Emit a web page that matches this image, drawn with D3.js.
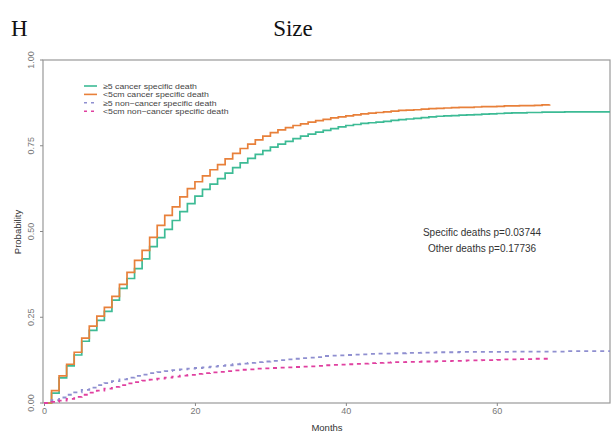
<!DOCTYPE html>
<html><head><meta charset="utf-8">
<script src="https://cdn.jsdelivr.net/npm/d3@7"></script>
<style>body{margin:0;background:#fff}svg{display:block}</style>
</head><body><svg id="c" width="614" height="433"></svg>
<script>
const seriesNames = ["≥5 cancer specific death","<5cm cancer specific death","≥5 non−cancer specific death","<5cm non−cancer specific death"];
const seriesColors = ["#3dbb95","#e8803a","#8f8fd0","#e040a0"];
const seriesDashed = [false,false,true,true];
// cumulative incidence, monthly steps (month index = position)
const ge5Cancer = [0,0.029,0.073,0.108,0.140,0.180,0.212,0.241,0.267,0.300,0.334,0.363,0.392,0.420,0.456,0.482,0.506,0.532,0.558,0.581,0.603,0.623,0.638,0.654,0.670,0.686,0.700,0.713,0.725,0.736,0.746,0.755,0.763,0.771,0.778,0.784,0.790,0.795,0.800,0.805,0.809,0.812,0.815,0.817,0.819,0.821,0.824,0.826,0.828,0.830,0.832,0.834,0.836,0.837,0.838,0.839,0.840,0.841,0.842,0.843,0.844,0.845,0.846,0.846,0.847,0.847,0.848,0.848,0.848,0.849,0.849,0.849,0.849,0.849,0.849,0.849];
const lt5Cancer = [0,0.036,0.079,0.113,0.148,0.189,0.224,0.253,0.279,0.311,0.346,0.381,0.416,0.445,0.483,0.518,0.547,0.572,0.601,0.625,0.645,0.662,0.680,0.695,0.712,0.728,0.742,0.755,0.767,0.778,0.788,0.796,0.803,0.809,0.814,0.819,0.823,0.827,0.831,0.834,0.837,0.840,0.843,0.845,0.847,0.849,0.851,0.853,0.854,0.855,0.857,0.858,0.859,0.860,0.861,0.862,0.862,0.863,0.864,0.864,0.865,0.866,0.866,0.867,0.867,0.868,0.869,0.870];
const ge5Other = [0,0.008,0.016,0.024,0.031,0.038,0.045,0.052,0.058,0.064,0.069,0.074,0.079,0.083,0.087,0.090,0.093,0.096,0.098,0.100,0.102,0.104,0.106,0.108,0.110,0.113,0.115,0.117,0.119,0.121,0.123,0.125,0.127,0.129,0.131,0.132,0.134,0.137,0.138,0.139,0.140,0.141,0.142,0.143,0.144,0.144,0.145,0.145,0.146,0.146,0.147,0.147,0.148,0.148,0.148,0.149,0.149,0.149,0.149,0.149,0.149,0.149,0.150,0.150,0.150,0.150,0.150,0.150,0.150,0.151,0.151,0.151,0.151,0.151,0.151,0.151];
const lt5Other = [0,0.003,0.007,0.012,0.018,0.024,0.030,0.036,0.042,0.047,0.052,0.057,0.061,0.065,0.068,0.071,0.074,0.077,0.080,0.082,0.085,0.087,0.089,0.091,0.093,0.095,0.097,0.098,0.100,0.101,0.102,0.103,0.104,0.105,0.106,0.107,0.108,0.110,0.111,0.112,0.113,0.114,0.115,0.116,0.117,0.118,0.119,0.119,0.120,0.120,0.121,0.121,0.122,0.122,0.123,0.123,0.124,0.124,0.125,0.125,0.126,0.127,0.127,0.128,0.128,0.129,0.129,0.130];
const allSeries = [ge5Cancer, lt5Cancer, ge5Other, lt5Other];
const xTicks = [0,20,40,60];
const yTicks = [0,0.25,0.5,0.75,1];
const yTickLabels = ["0.00","0.25","0.50","0.75","1.00"];
const annotations = ["Specific deaths p=0.03744","Other deaths p=0.17736"];

const svg = d3.select("#c");
const x = d3.scaleLinear().domain([0,75]).range([44,610]);
const y = d3.scaleLinear().domain([0,1]).range([403,60]);
const sans = "Liberation Sans, Arial, sans-serif";

svg.append("text").attr("x",11).attr("y",36).attr("font-family","Liberation Serif, Times New Roman, serif").attr("font-size",23).attr("fill","#111").text("H");
svg.append("text").attr("x",293).attr("y",36).attr("text-anchor","middle").attr("font-family","Liberation Serif, Times New Roman, serif").attr("font-size",23).attr("fill","#111").text("Size");

// frame
svg.append("rect").attr("x",43).attr("y",60).attr("width",567).attr("height",343).attr("fill","none").attr("stroke","#999").attr("stroke-width",1.2);

// y axis
const yAxis = d3.axisLeft(y).tickValues(yTicks).tickSize(3).tickFormat((d,i)=>yTickLabels[i]);
const gy = svg.append("g").attr("transform","translate(43,0)").call(yAxis);
gy.select(".domain").remove();
gy.selectAll("line").attr("stroke","#888");
gy.selectAll("text").attr("font-family",sans).attr("font-size",9).attr("fill","#777")
  .attr("transform",d=>`rotate(-90,-9,${y(d)})`).attr("x",-9).attr("dy","0").attr("y",y)
  .attr("text-anchor","middle").attr("dominant-baseline","auto");
gy.selectAll(".tick").attr("transform",null);
gy.selectAll(".tick line").attr("y1",d=>y(d)).attr("y2",d=>y(d)).attr("x2",-3);

// x axis
const xAxis = d3.axisBottom(x).tickValues(xTicks).tickSize(3).tickPadding(2);
const gx = svg.append("g").attr("transform","translate(0,403)").call(xAxis);
gx.select(".domain").remove();
gx.selectAll("line").attr("stroke","#888");
gx.selectAll("text").attr("font-family",sans).attr("font-size",9).attr("fill","#777");

svg.append("text").attr("x",327).attr("y",431).attr("text-anchor","middle").attr("font-family",sans).attr("font-size",9.5).attr("fill","#333").text("Months");
svg.append("text").attr("transform","translate(21,232) rotate(-90)").attr("text-anchor","middle").attr("font-family",sans).attr("font-size",9.5).attr("fill","#333").text("Probability");

// curves
const line = d3.line().x((d,i)=>x(i)).y(d=>y(d)).curve(d3.curveStepAfter);
allSeries.forEach((s,k)=>{
  svg.append("path").datum(s).attr("d",line).attr("fill","none")
    .attr("stroke",seriesColors[k]).attr("stroke-width",seriesDashed[k]?1.8:1.7)
    .attr("stroke-dasharray",seriesDashed[k]?"4,4":null);
});

// legend
const lg = svg.append("g");
seriesNames.forEach((n,k)=>{
  const yy = 86 + k*8.4;
  lg.append("line").attr("x1",84).attr("x2",97).attr("y1",yy).attr("y2",yy)
    .attr("stroke",seriesColors[k]).attr("stroke-width",1.6).attr("stroke-dasharray",seriesDashed[k]?"3,4":null);
  lg.append("text").attr("transform",`translate(103,${yy+2.7}) scale(1.18,1)`).attr("font-family",sans).attr("font-size",7.4).attr("fill","#444").text(n);
});

annotations.forEach((t,k)=>{
  svg.append("text").attr("x",482).attr("y",236+k*16).attr("text-anchor","middle").attr("font-family",sans).attr("font-size",10).attr("fill","#333").text(t);
});
</script></body></html>
